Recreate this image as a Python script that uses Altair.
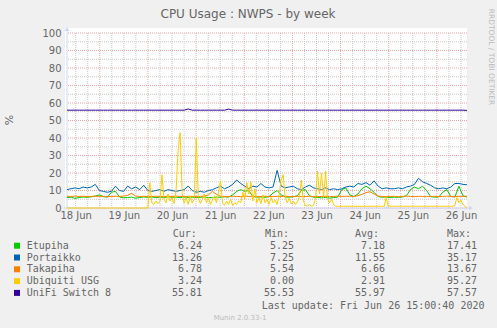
import altair as alt
import pandas as pd

# ---------------- data ----------------
days = [18, 19, 20, 21, 22, 23, 24, 25, 26]
y_major = [0, 10, 20, 30, 40, 50, 60, 70, 80, 90, 100]
y_minor = [5, 15, 25, 35, 45, 55, 65, 75, 85, 95]

series_names = ["Etupiha", "Portaikko", "Takapiha", "Ubiquiti USG", "UniFi Switch 8"]
series_colors = ["#00CC00", "#0066B3", "#FF8000", "#FFCC00", "#330099"]
cur_vals = [6.24, 13.26, 6.78, 3.24, 55.81]
min_vals = [5.25, 7.25, 5.54, 0.00, 55.53]
avg_vals = [7.18, 11.55, 6.66, 2.91, 55.97]
max_vals = [17.41, 35.17, 13.67, 95.27, 57.57]

etupiha = [
    6.0, 6.2, 5.5, 6.0, 6.3, 6.1, 6.4, 6.8, 7.5, 6.5,
    6.2, 9.0, 9.5, 6.3, 5.8, 6.0, 6.2, 5.6, 6.0, 6.3,
    6.1, 6.3, 5.9, 6.2, 6.0, 6.4, 6.1, 6.2, 5.9, 6.3,
    6.0, 6.2, 6.0, 6.1, 6.3, 6.0, 5.9, 6.2, 6.1, 6.4,
    6.2, 7.5, 9.5, 10.5, 9.5, 10.0, 6.5, 6.2, 6.3, 6.1,
    6.5, 8.5, 10.0, 7.5, 6.3, 6.2, 6.4, 7.0, 10.0, 10.5,
    7.0, 6.2, 6.0, 5.8, 6.1, 5.6, 6.0, 6.2, 10.5, 11.5,
    7.5, 6.5, 8.0, 11.0, 12.5, 11.0, 9.0, 6.5, 6.2, 6.3,
    6.0, 6.2, 6.1, 6.3, 7.0, 10.5, 12.0, 11.0, 12.5, 10.0,
    6.5, 6.2, 6.3, 9.0, 10.5, 6.5, 6.3, 12.5, 7.0, 6.24,
]

portaikko = [
    10.5, 11, 11.5, 11, 12, 11.5, 12, 13.5, 10, 9.5,
    9, 9.5, 12.5, 10, 9.5, 12.5, 11, 12, 10.5, 13,
    10, 9.5, 10, 10.5, 9.5, 10.5, 10, 9.5, 10, 10.5,
    12.5, 10, 9, 9.5, 9, 10, 10.5, 11.5, 12.5, 11,
    12, 13.5, 16, 14, 12.5, 11, 12.5, 12, 14, 12,
    11.5, 12, 21.5, 12.5, 11.5, 12, 12.5, 11, 10.5, 12,
    13, 11.5, 11, 10.5, 11.5, 10.5, 11, 10.5, 11, 12,
    12.5, 12, 14, 13.5, 14.5, 13, 15.5, 12.5, 11, 11.5,
    11, 11, 11.5, 11, 12, 12.5, 13.5, 17, 15, 14,
    13, 11.5, 11, 11.5, 11, 12, 14, 14, 13.5, 13.26,
]

takapiha = [
    6.7, 6.6, 6.8, 6.6, 6.7, 6.5, 6.6, 6.8, 6.6, 6.7,
    6.5, 6.6, 6.7, 6.6, 6.8, 7.2, 8.4, 6.8, 6.6, 6.7,
    6.5, 6.6, 6.7, 6.6, 6.5, 6.7, 6.6, 6.8, 6.6, 6.5,
    6.7, 6.6, 6.5, 6.6, 6.8, 7.5, 9.5, 7.8, 6.7, 6.6,
    6.5, 6.7, 6.6, 6.5, 6.8, 6.6, 6.7, 6.5, 6.6, 6.7,
    6.6, 6.5, 6.7, 6.6, 6.8, 6.5, 6.6, 6.7, 6.5, 6.6,
    6.7, 6.6, 6.5, 6.6, 6.7, 6.5, 6.6, 6.8, 6.6, 6.7,
    6.7, 6.6, 7.0, 7.8, 8.8, 9.3, 8.0, 6.8, 6.6, 6.5,
    6.6, 6.7, 6.5, 6.6, 6.8, 6.6, 6.5, 6.7, 6.6, 6.5,
    6.6, 6.7, 6.5, 6.6, 6.8, 6.6, 6.5, 6.7, 6.6, 6.78,
]

ubiquiti = [
    0, 0, 0, 0, 0, 0, 0, 0, 0, 0,
    0, 0, 0, 0, 0, 0, 0, 0, 0, 0,
    0, 0, 0, 0, 0, 0, 0, 0, 0, 0,
    0, 0, 0, 0, 0, 0, 0, 0, 0, 0,
    0, 14.5, 3, 2, 4, 2.5, 3.5, 19, 5, 3,
    8, 4, 6, 2.5, 10, 33, 43, 8, 3, 6,
    2, 7, 3, 5, 40, 6, 2.5, 5, 8, 3,
    6, 2, 4.5, 7, 3, 9, 15.5, 3, 1.5, 4,
    2, 5, 1.5, 3, 2, 4, 3, 9, 5, 14.5,
    8, 15, 4, 11, 3, 6, 2.5, 7.5, 3, 5,
    2, 6, 3, 4.5, 2, 7, 16, 19, 6, 3,
    5.5, 2.5, 4, 2, 3.5, 6, 16, 4, 1.5, 1,
    2, 1, 1.5, 5, 21, 8, 20, 6, 21, 5,
    3, 5, 2, 1, 1, 1, 1, 1, 1, 1,
    1, 1, 1, 1, 1, 1, 1, 1, 1, 1,
    1, 1, 1, 1, 1, 1, 1, 1, 6, 1,
    1, 1, 1, 1, 1, 1, 1, 1, 1, 1,
    1, 1, 1, 1, 1, 1, 1, 1, 1, 1,
    1, 1, 1, 1, 1, 1, 1, 1, 1, 1,
    1, 1, 1.5, 6, 3, 4.5, 2, 1, 0.2,
]

unifi = [
    55.9, 55.9, 55.9, 55.9, 55.9, 55.9, 55.9, 55.9, 55.9, 55.9,
    55.9, 55.9, 55.9, 55.9, 55.9, 55.9, 55.9, 55.9, 55.9, 55.9,
    55.9, 55.9, 55.9, 55.9, 55.9, 55.9, 55.9, 55.9, 55.9, 55.9,
    56.6, 55.9, 55.9, 55.9, 55.9, 55.9, 55.9, 55.9, 55.9, 55.9,
    56.5, 55.9, 55.9, 55.9, 55.9, 55.9, 55.9, 55.9, 55.9, 55.9,
    55.9, 55.9, 55.9, 55.9, 55.9, 55.9, 55.9, 55.9, 55.9, 55.9,
    55.9, 55.9, 55.9, 55.9, 55.9, 55.9, 55.9, 55.9, 55.9, 55.9,
    55.9, 55.9, 55.9, 55.9, 55.9, 55.9, 55.9, 55.9, 55.9, 55.9,
    55.9, 55.9, 55.9, 55.9, 55.9, 55.9, 55.9, 55.9, 55.9, 55.9,
    55.9, 55.9, 55.9, 55.9, 55.9, 55.9, 55.9, 55.9, 55.9, 55.8,
]

series_values = [etupiha, portaikko, takapiha, ubiquiti, unifi]

# ---------------- helpers ----------------
T0 = "2020-06-18 07:40"
T1 = "2020-06-26 15:00"
FMT = "%Y-%m-%dT%H:%M:%SZ"


def times(n):
    return pd.date_range(T0, T1, periods=n, tz="UTC").strftime(FMT).tolist()


six_h = pd.date_range("2020-06-18 12:00", "2020-06-26 12:00", freq="6h", tz="UTC")
major_t = [t.strftime(FMT) for t in six_h if t.hour == 0]
minor_t = [t.strftime(FMT) for t in six_h if t.hour != 0]

L, TOP = 67, 33  # plot-area origin in page pixels


def px(x):
    return x - L


def py(y):
    return y - TOP


FG = "#666666"
SANS = "DejaVu Sans"
MONO = "DejaVu Sans Mono"
AXISC = "#CFD6F8"

xaxis = alt.Axis(
    values=[alt.DateTime(year=2020, month=6, date=d, hours=12, utc=True) for d in days],
    labelExpr="utcFormat(datum.value, '%d %b')", labelFont=SANS, labelFontSize=10,
    labelColor=FG, domain=False, ticks=False, grid=False, labelPadding=2,
    title=None, labelOverlap=False, labelFlush=False,
)
yaxis = alt.Axis(
    values=y_major, labelFont=SANS, labelFontSize=10, labelColor=FG,
    domain=False, ticks=False, grid=False, labelPadding=6, title=None,
)
X = alt.X("t:T", axis=xaxis, scale=alt.Scale(
    type="utc",
    domain=[alt.DateTime(year=2020, month=6, date=18, hours=7, minutes=40, utc=True),
            alt.DateTime(year=2020, month=6, date=26, hours=15, utc=True)]))
Y = alt.Y("v:Q", axis=yaxis, scale=alt.Scale(domain=[0, 100], nice=False, zero=False))

one = pd.DataFrame({"a": [0]})
layers = []

# white canvas
layers.append(alt.Chart(one).mark_rect(color="white").encode(
    x=alt.value(-2), x2=alt.value(400), y=alt.value(-5), y2=alt.value(175)))

# grid
layers.append(alt.Chart(pd.DataFrame({"v": y_minor})).mark_rule(
    color="#C8C8C8", strokeDash=[1, 1], strokeWidth=1).encode(y=Y))
layers.append(alt.Chart(pd.DataFrame({"t": minor_t})).mark_rule(
    color="#C8C8C8", strokeDash=[1, 1], strokeWidth=1).encode(x=X))
layers.append(alt.Chart(pd.DataFrame({"v": y_major})).mark_rule(
    color="#EDA8A8", strokeDash=[1, 1], strokeWidth=1).encode(y=Y))
layers.append(alt.Chart(pd.DataFrame({"t": major_t})).mark_rule(
    color="#EDA8A8", strokeDash=[1, 1], strokeWidth=1).encode(x=X))

# axes lines + arrows
layers.append(alt.Chart(one).mark_rule(color=AXISC, strokeWidth=1).encode(
    x=alt.value(0), y=alt.value(175), y2=alt.value(-3)))
layers.append(alt.Chart(one).mark_rule(color=AXISC, strokeWidth=1).encode(
    x=alt.value(-3), x2=alt.value(403), y=alt.value(175)))
layers.append(alt.Chart(one).mark_point(shape="triangle-up", filled=True, size=22,
                                        color=AXISC, opacity=1).encode(
    x=alt.value(0), y=alt.value(-4)))
layers.append(alt.Chart(one).mark_point(shape="triangle-right", filled=True, size=22,
                                        color=AXISC, opacity=1).encode(
    x=alt.value(404), y=alt.value(175)))

# series
for name, col, vals in zip(series_names, series_colors, series_values):
    df = pd.DataFrame({"t": times(len(vals)), "v": vals})
    layers.append(alt.Chart(df).mark_line(color=col, strokeWidth=1,
                                          interpolate="linear").encode(x=X, y=Y))

# texts
def text_layer(s, x, y, size=10, font=MONO, align="left", color=FG, angle=0,
               baseline="middle"):
    kw = dict(align=align, baseline=baseline, font=font, fontSize=size, color=color)
    if angle:
        kw["angle"] = angle
    return alt.Chart(pd.DataFrame({"s": [s]})).mark_text(**kw).encode(
        x=alt.value(x), y=alt.value(y), text="s:N")


layers.append(text_layer("CPU Usage : NWPS - by week", px(248), py(14), size=12,
                         font=SANS, align="center"))
layers.append(text_layer("%", px(10), py(120), size=11, font=SANS, align="center",
                         angle=270))
layers.append(text_layer("RRDTOOL / TOBI OETIKER", px(491), py(57), size=7.5,
                         font=SANS, align="center", color="#BBBBBB", angle=90))

for lab, xpos in zip(["Cur:", "Min:", "Avg:", "Max:"], [172.7, 265, 355, 447]):
    layers.append(text_layer(lab, px(xpos), py(234)))

row_y0, row_dy = 245.7, 11.8
for i, (name, col) in enumerate(zip(series_names, series_colors)):
    yy = py(row_y0 + row_dy * i)
    layers.append(alt.Chart(one).mark_square(size=36, color=col, opacity=1).encode(
        x=alt.value(px(17)), y=alt.value(yy)))
    layers.append(text_layer(name, px(26.7), yy))
    for vals, xr in zip([cur_vals, min_vals, avg_vals, max_vals], [202, 294, 385, 477]):
        layers.append(text_layer(f"{vals[i]:.2f}", px(xr), yy, align="right"))

layers.append(text_layer("Last update: Fri Jun 26 15:00:40 2020", px(261.7), py(305.7)))
layers.append(text_layer("Munin 2.0.33-1", px(240), py(317.5), size=7, font=SANS,
                         align="center", color="#BBBBBB"))

chart = alt.layer(*layers).properties(
    width=400, height=175,
    autosize=alt.AutoSizeParams(type="none"),
    padding={"left": 67, "top": 33, "right": 30, "bottom": 120},
    background="#F0F0F0",
).configure_view(stroke=None, fill=None)

chart.save("out.html", embed_options={"renderer": "svg", "actions": False})
